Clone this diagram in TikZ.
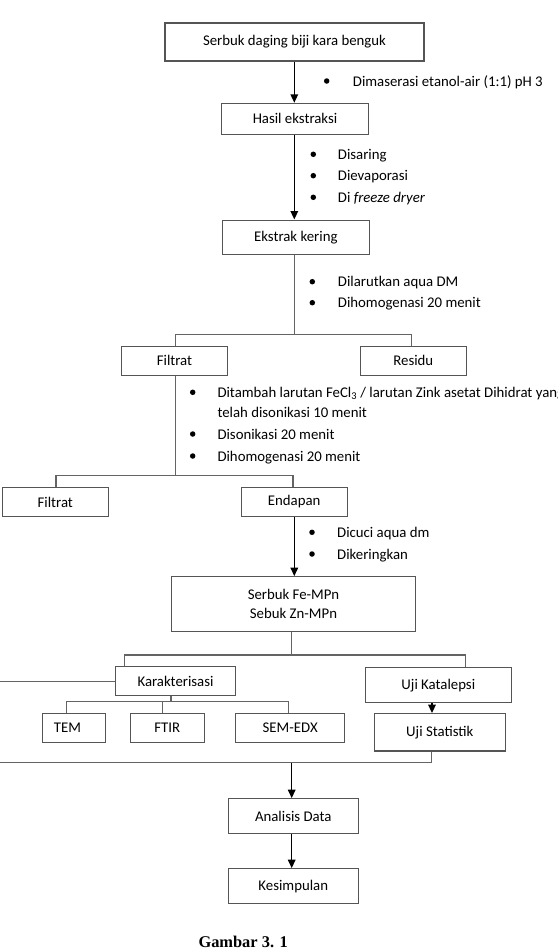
\documentclass[tikz,border=0pt]{standalone}
\usepackage{fontspec}
\setmainfont{Carlito}
\newfontfamily\capfont{Liberation Serif}
\usetikzlibrary{arrows.meta}
\definecolor{boxgray}{RGB}{85,85,85}
\definecolor{linegray}{RGB}{100,100,100}
\newcommand\mainsz{\fontsize{14.8pt}{18.4pt}\selectfont}
\begin{document}
\begin{tikzpicture}[x=1pt,y=-1pt,
  box/.style={draw=boxgray, line width=1.1pt, inner sep=0pt, align=center, font=\mainsz},
  arr/.style={draw=black, line width=1.5pt, -{Triangle[length=8.5pt,width=7.5pt]}},
  tree/.style={draw=linegray, line width=1.3pt},
  dot/.style={circle, fill=black, inner sep=0pt, minimum size=5.5pt},
  btext/.style={anchor=base west, inner sep=0pt, font=\mainsz}]
\useasboundingbox (0,0) rectangle (557,950);
\clip (0,0) rectangle (557,950);

% boxes
\node[box, minimum width=259pt, minimum height=38pt] (b1) at (294.5,42) {Serbuk daging biji kara benguk};
\node[box, minimum width=146.6pt, minimum height=30.7pt] (b2) at (295,118.7) {Hasil ekstraksi};
\node[box, minimum width=147pt, minimum height=34.3pt] (b3) at (295.8,237.2) {Ekstrak kering};
\node[box, minimum width=105.6pt, minimum height=29.3pt] (f1) at (174.5,360.7) {Filtrat};
\node[box, minimum width=106pt, minimum height=29.3pt] (res) at (413.3,360.7) {Residu};
\node[box, minimum width=106pt, minimum height=29.4pt] (f2) at (55.3,502) {Filtrat};
\node[box, minimum width=105.7pt, minimum height=29.4pt] (end) at (294.2,502) {Endapan};
\node[box, minimum width=243.6pt, minimum height=54.6pt] (sfe) at (293.5,604) {Serbuk Fe-MPn\\Sebuk Zn-MPn};
\node[box, minimum width=120.4pt, minimum height=29pt] (kar) at (175.5,681.2) {Karakterisasi};
\node[box, minimum width=146pt, minimum height=35pt] (kat) at (438.3,685.2) {Uji Katalepsi};
\node[box, minimum width=63.4pt, minimum height=29pt] (tem) at (74,728.2) {\hspace*{-13pt}TEM};
\node[box, minimum width=74pt, minimum height=29pt] (ftir) at (167.3,728.2) {FTIR};
\node[box, minimum width=109pt, minimum height=29pt] (sem) at (290.2,728.2) {SEM-EDX};
\node[box, minimum width=131pt, minimum height=37.3pt] (stat) at (439.8,732.3) {Uji Statistik};
\node[box, minimum width=130pt, minimum height=35pt] (ana) at (293.3,816.2) {Analisis Data};
\node[box, minimum width=130pt, minimum height=35pt] (kes) at (293.3,886.2) {Kesimpulan};

% junction coordinates
\coordinate (j1) at (294.3,334.3);
\coordinate (j2) at (175.7,475.5);
\coordinate (j3) at (291.7,655);
\coordinate (kl) at (124.3,655);
\coordinate (kr) at (465.3,655);
\coordinate (j4) at (171,701.3);
\coordinate (ct) at (66.7,701.3);
\coordinate (cf) at (162.7,701.3);
\coordinate (cs) at (288.3,701.3);
\coordinate (lk) at (0,681.7);
\coordinate (j5) at (431.7,762.3);
\coordinate (lb) at (0,762.3);
\coordinate (j6) at (291.7,762.3);

% arrows
\draw[arr] (b1.south -| 294.3,0) -- (b2.north -| 294.3,0);
\draw[arr] (b2.south -| 294.3,0) -- (b3.north -| 294.3,0);
\draw[arr] (end.south -| 294.3,0) -- (sfe.north -| 294.3,0);
\draw[arr] (kat.south -| 432,0) -- (stat.north -| 432,0);
\draw[arr] (j6) -- (ana.north -| j6);
\draw[arr] (ana.south -| j6) -- (kes.north -| j6);

% tree lines
\draw[tree] (b3.south -| j1) -- (j1);
\draw[tree] (f1.north -| j2) |- (j1) -| (res.north -| 411.7,0);
\draw[tree] (f1.south -| j2) -- (j2);
\draw[tree] (f2.north -| 56,0) |- (j2) -| (end.north -| 293,0);
\draw[tree] (sfe.south -| j3) -- (j3);
\draw[tree] (kar.north -| kl) -- (kl) -- (kr) -- (kat.north -| kr);
\draw[tree] (lk) -- (kar.west |- lk);
\draw[tree] (kar.south -| j4) -- (j4);
\draw[tree] (tem.north -| ct) -- (ct) -- (cs) -- (sem.north -| cs);
\draw[tree] (cf) -- (ftir.north -| cf);
\draw[tree] (stat.south -| j5) -- (j5) -- (lb);

% bullet lists
\node[dot] (d1) at (326.7,81) {};
\node[btext] (t1) at (352.7,86) {Dimaserasi etanol-air (1:1) pH 3};

\node[dot] (d2) at (313.3,154.3) {};
\node[btext] (t2) at (337.7,159.3) {Disaring};
\node[dot] (d3) at (313.3,175.7) {};
\node[btext] (t3) at (337.7,180.7) {Dievaporasi};
\node[dot] (d4) at (313.3,197.3) {};
\node[btext] (t4) at (337.7,202.3) {Di \textit{freeze dryer}};

\node[dot] (d5) at (312.3,281.7) {};
\node[btext] (t5) at (337.7,286.7) {Dilarutkan aqua DM};
\node[dot] (d6) at (312.3,302.7) {};
\node[btext] (t6) at (337.7,307.7) {Dihomogenasi 20 menit};

\node[dot] (d7) at (192.7,392.3) {};
\node[btext] (t7) at (217.3,397.3) {Ditambah larutan FeCl\textsubscript{3} / larutan Zink asetat Dihidrat yang};
\node[btext] (t8) at (217.3,417.7) {telah disonikasi 10 menit};
\node[dot] (d9) at (192.7,434) {};
\node[btext] (t9) at (217.3,439) {Disonikasi 20 menit};
\node[dot] (d10) at (192.7,456) {};
\node[btext] (t10) at (217.3,461) {Dihomogenasi 20 menit};

\node[dot] (d11) at (312,532.3) {};
\node[btext] (t11) at (337,537.3) {Dicuci aqua dm};
\node[dot] (d12) at (312,554) {};
\node[btext] (t12) at (337,559) {Dikeringkan};

% caption
\node[anchor=base west, inner sep=0pt, font=\capfont\bfseries\fontsize{16.4pt}{18pt}\selectfont] (cap) at (198.3,947.5) {Gambar 3. 1};
\end{tikzpicture}
\end{document}
